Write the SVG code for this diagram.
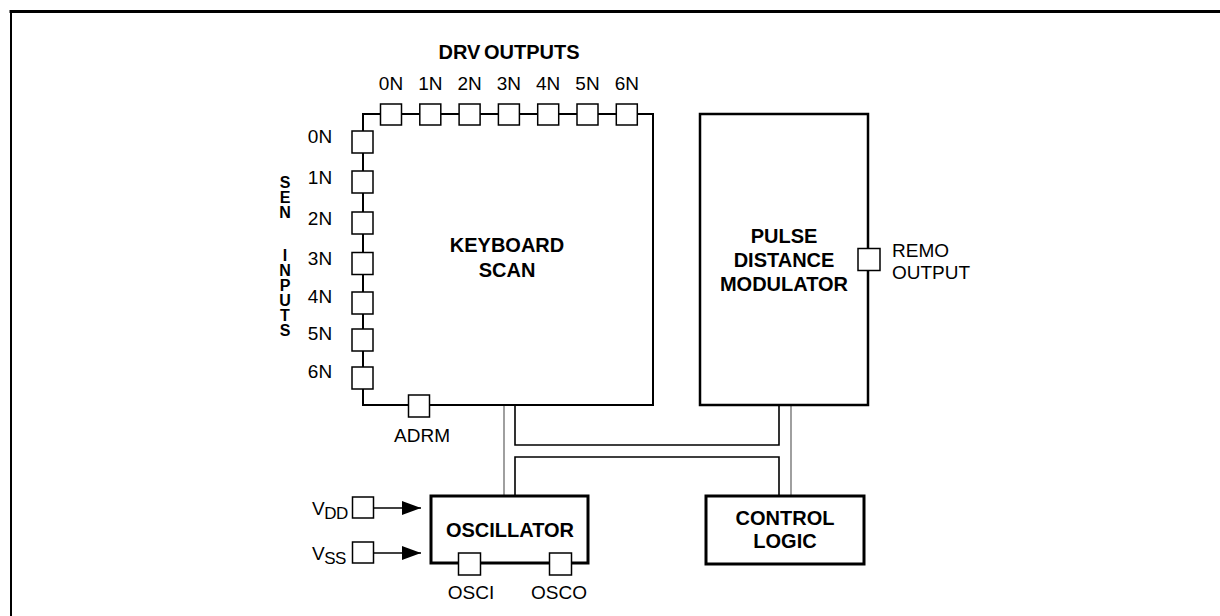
<svg xmlns="http://www.w3.org/2000/svg" width="1220" height="616" viewBox="0 0 1220 616">
<style>
  .b{font-family:"Liberation Sans",Arial,sans-serif;font-weight:bold;font-size:20px;fill:#000;text-anchor:middle}
  .r{font-family:"Liberation Sans",Arial,sans-serif;font-size:19px;fill:#000;text-anchor:middle}
  .rl{font-family:"Liberation Sans",Arial,sans-serif;font-size:19px;fill:#000}
  .pin{fill:#fff;stroke:#000;stroke-width:1.5}
  .blk{fill:#fff;stroke:#000;stroke-width:2.5}
  .thick{fill:#fff;stroke:#000;stroke-width:3}
  .wire{fill:none;stroke:#000;stroke-width:2}
  .bus{fill:none;stroke:#000;stroke-width:1.6}
  .gbus{fill:none;stroke:#888;stroke-width:1.6}
  .sen{font-family:"Liberation Sans",Arial,sans-serif;font-weight:bold;font-size:16px;fill:#000;text-anchor:middle}
</style>
<defs>
  <marker id="arr" markerWidth="20" markerHeight="14" refX="19" refY="7" orient="auto" markerUnits="userSpaceOnUse">
    <path d="M0,0 L19,7 L0,14 Z" fill="#000"/>
  </marker>
</defs>
<rect width="1220" height="616" fill="#fff"/>
<g id="frame">
  <line x1="9.5" y1="11.5" x2="1220" y2="11.5" stroke="#000" stroke-width="3"/>
  <line x1="11" y1="10" x2="11" y2="616" stroke="#000" stroke-width="2"/>
</g>

<g id="connectors">
  <path class="bus" d="M515,405 V445 H779 V405"/>
  <path class="bus" d="M515,496 V457 H779 V496"/>
  <line class="gbus" x1="504" y1="405" x2="504" y2="496"/>
  <line class="gbus" x1="791" y1="405" x2="791" y2="496"/>
  <line x1="374" y1="508" x2="421" y2="508" stroke="#000" stroke-width="1.6" marker-end="url(#arr)"/>
  <line x1="374" y1="553" x2="421" y2="553" stroke="#000" stroke-width="1.6" marker-end="url(#arr)"/>
</g>

<g id="keyboard-scan">
  <path class="wire" d="M363,114 H653 V405 H363 Z" fill="#fff"/>
  <text class="b" x="507" y="252">KEYBOARD</text>
  <text class="b" x="507" y="277">SCAN</text>
</g>

<g id="drv-outputs">
  <text class="b" x="509" y="59" font-size="19" word-spacing="-2">DRV OUTPUTS</text>
  <rect class="pin" x="380.5" y="104" width="21" height="21"/>
  <rect class="pin" x="419.8" y="104" width="21" height="21"/>
  <rect class="pin" x="459.1" y="104" width="21" height="21"/>
  <rect class="pin" x="498.4" y="104" width="21" height="21"/>
  <rect class="pin" x="537.7" y="104" width="21" height="21"/>
  <rect class="pin" x="577" y="104" width="21" height="21"/>
  <rect class="pin" x="616.3" y="104" width="21" height="21"/>
  <text class="r" x="391" y="90">0N</text>
  <text class="r" x="430.3" y="90">1N</text>
  <text class="r" x="469.6" y="90">2N</text>
  <text class="r" x="508.9" y="90">3N</text>
  <text class="r" x="548.2" y="90">4N</text>
  <text class="r" x="587.5" y="90">5N</text>
  <text class="r" x="626.8" y="90">6N</text>
</g>

<g id="sen-inputs">
  <text class="sen" x="285" y="188">S</text>
  <text class="sen" x="285" y="203">E</text>
  <text class="sen" x="285" y="218">N</text>
  <text class="sen" x="285" y="261">I</text>
  <text class="sen" x="285" y="276">N</text>
  <text class="sen" x="285" y="291">P</text>
  <text class="sen" x="285" y="306">U</text>
  <text class="sen" x="285" y="321">T</text>
  <text class="sen" x="285" y="336">S</text>
  <rect class="pin" x="352" y="131" width="21" height="22"/>
  <rect class="pin" x="352" y="171" width="21" height="22"/>
  <rect class="pin" x="352" y="212" width="21" height="22"/>
  <rect class="pin" x="352" y="252.5" width="21" height="22"/>
  <rect class="pin" x="352" y="292" width="21" height="22"/>
  <rect class="pin" x="352" y="329" width="21" height="22"/>
  <rect class="pin" x="352" y="367" width="21" height="22"/>
  <text class="r" x="320" y="143">0N</text>
  <text class="r" x="320" y="184">1N</text>
  <text class="r" x="320" y="225">2N</text>
  <text class="r" x="320" y="265">3N</text>
  <text class="r" x="320" y="303">4N</text>
  <text class="r" x="320" y="340">5N</text>
  <text class="r" x="320" y="378">6N</text>
</g>

<g id="adrm">
  <rect class="pin" x="408.5" y="395" width="21" height="22"/>
  <text class="r" x="422" y="442">ADRM</text>
</g>

<g id="pulse-distance-modulator">
  <rect class="blk" x="700" y="114" width="168" height="291"/>
  <text class="b" x="784" y="243">PULSE</text>
  <text class="b" x="784" y="267">DISTANCE</text>
  <text class="b" x="784" y="291">MODULATOR</text>
</g>

<g id="remo-output">
  <rect class="pin" x="858" y="248.5" width="22" height="22"/>
  <text class="rl" x="892" y="257">REMO</text>
  <text class="rl" x="892" y="279">OUTPUT</text>
</g>

<g id="oscillator">
  <rect class="thick" x="431" y="496" width="157" height="67"/>
  <text class="b" x="510" y="537">OSCILLATOR</text>
  <rect class="pin" x="458.5" y="553" width="22" height="22"/>
  <rect class="pin" x="549.5" y="553" width="22" height="22"/>
  <text class="r" x="471" y="599">OSCI</text>
  <text class="r" x="559" y="599">OSCO</text>
</g>

<g id="control-logic">
  <rect class="thick" x="706" y="496" width="158" height="68"/>
  <text class="b" x="785" y="525">CONTROL</text>
  <text class="b" x="785" y="548">LOGIC</text>
</g>

<g id="vdd">
  <rect class="pin" x="352.5" y="497" width="21" height="21"/>
  <text class="rl" x="312" y="515" letter-spacing="-0.5">V<tspan font-size="17" dy="4">DD</tspan></text>
</g>

<g id="vss">
  <rect class="pin" x="352.5" y="542" width="21" height="21"/>
  <text class="rl" x="312" y="560" letter-spacing="-0.5">V<tspan font-size="17" dy="4">SS</tspan></text>
</g>
</svg>
